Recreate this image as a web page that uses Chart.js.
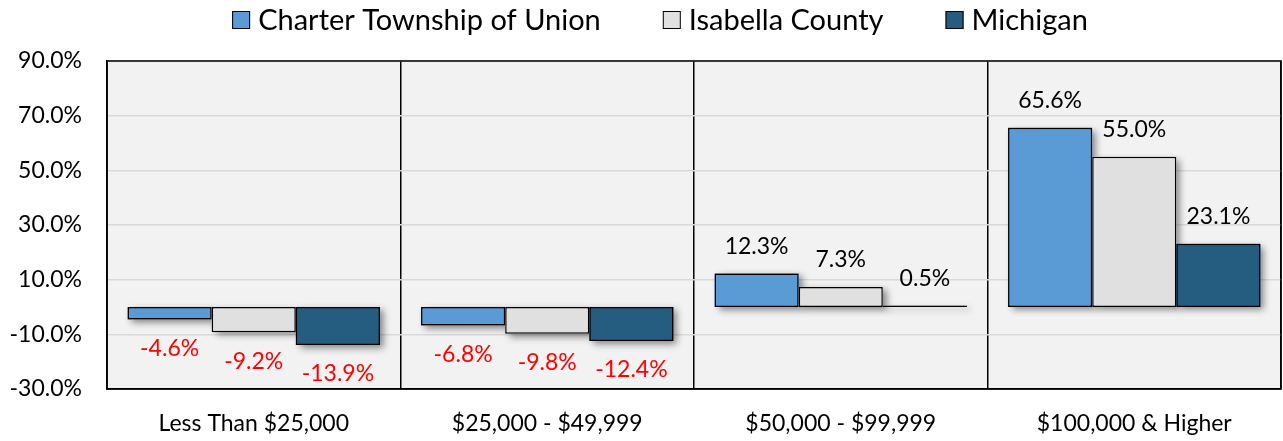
<!DOCTYPE html>
<html>
<head>
<meta charset="utf-8">
<script src="https://cdn.jsdelivr.net/npm/chart.js@4.4.1/dist/chart.umd.min.js"></script>
<style>
  html, body { margin: 0; padding: 0; background: #fff; }
  #wrap { width: 1283px; height: 441px; position: relative; }
</style>
</head>
<body>
<div id="wrap"><canvas id="chart"></canvas></div>
<script>
"use strict";
const categories = ["Less Than $25,000", "$25,000 - $49,999", "$50,000 - $99,999", "$100,000 & Higher"];
const seriesNames = ["Charter Township of Union", "Isabella County", "Michigan"];
const union = [-4.6, -6.8, 12.3, 65.6];
const isabella = [-9.2, -9.8, 7.3, 55.0];
const michigan = [-13.9, -12.4, 0.5, 23.1];
const yTicks = [-30, -10, 10, 30, 50, 70, 90];

const colors = ["#5b9bd5", "#e0e0e0", "#255d80"];
const FONT = "Lato, 'Open Sans', sans-serif";

/* ---------- plugins ---------- */
const plotBg = {
  id: "plotBg",
  beforeDraw(c) {
    const a = c.chartArea, ctx = c.ctx;
    ctx.save();
    ctx.fillStyle = "#f2f2f2";
    ctx.fillRect(a.left, a.top, a.right - a.left, a.bottom - a.top);
    ctx.restore();
  },
  afterDraw(c) {
    const a = c.chartArea, ctx = c.ctx;
    ctx.save();
    ctx.strokeStyle = "#000";
    ctx.lineWidth = 1.5;
    ctx.strokeRect(a.left, a.top, a.right - a.left, a.bottom - a.top);
    ctx.restore();
  }
};

// soft drop shadow behind each bar (bar element clips its own drawing, so paint it first)
const barShadow = {
  id: "barShadow",
  beforeDatasetsDraw(c) {
    const ctx = c.ctx;
    ctx.save();
    ctx.shadowColor = "rgba(0,0,0,0.45)";
    ctx.shadowBlur = 7;
    ctx.shadowOffsetX = 4;
    ctx.shadowOffsetY = 3;
    c.data.datasets.forEach((ds, i) => {
      ctx.fillStyle = ds.backgroundColor;
      c.getDatasetMeta(i).data.forEach(bar => {
        const p = bar.getProps(["x", "y", "base", "width"], true);
        const top = Math.min(p.y, p.base), h = Math.max(Math.abs(p.base - p.y), 1);
        ctx.fillRect(p.x - p.width / 2, top, p.width, h);
      });
    });
    ctx.restore();
  }
};

const valueLabels = {
  id: "valueLabels",
  afterDatasetsDraw(c) {
    const ctx = c.ctx;
    ctx.save();
    ctx.font = "23px " + FONT;
    ctx.textAlign = "center";
    ctx.textBaseline = "middle";
    c.data.datasets.forEach((ds, i) => {
      c.getDatasetMeta(i).data.forEach((bar, j) => {
        const v = ds.data[j];
        ctx.fillStyle = v < 0 ? "#ff0000" : "#000";
        ctx.fillText(v.toFixed(1) + "%", bar.x, bar.y + (v < 0 ? 29 : -27));
      });
    });
    ctx.restore();
  }
};

const topLegend = {
  id: "topLegend",
  afterDraw(c) {
    const ctx = c.ctx;
    const box = 18, gapText = 8, gapItem = 62, y = 20;
    ctx.save();
    ctx.font = "29px " + FONT;
    ctx.textBaseline = "middle";
    const items = c.data.datasets.map(ds => ({ label: ds.label, color: ds.backgroundColor,
      w: box + gapText + ctx.measureText(ds.label).width }));
    const total = items.reduce((s, it) => s + it.w, 0) + gapItem * (items.length - 1);
    let x = 660 - total / 2;
    items.forEach(it => {
      ctx.fillStyle = it.color;
      ctx.fillRect(x, y - box / 2, box, box);
      ctx.strokeStyle = "#000";
      ctx.lineWidth = 1;
      ctx.strokeRect(x + 0.5, y - box / 2 + 0.5, box - 1, box - 1);
      ctx.fillStyle = "#000";
      ctx.fillText(it.label, x + box + gapText, y + 1);
      x += it.w + gapItem;
    });
    ctx.restore();
  }
};

/* ---------- chart ---------- */
new Chart(document.getElementById("chart"), {
  type: "bar",
  data: {
    labels: categories,
    datasets: [union, isabella, michigan].map((d, i) => ({
      label: seriesNames[i], data: d, backgroundColor: colors[i],
      borderColor: "#000", borderWidth: 1.5, borderSkipped: false
    }))
  },
  options: {
    responsive: true, maintainAspectRatio: false, animation: false,
    layout: { padding: { top: 61, right: 2, left: 0, bottom: 0 } },
    categoryPercentage: 0.86, barPercentage: 1,
    plugins: { legend: { display: false }, tooltip: { enabled: false } },
    scales: {
      x: {
        grid: { color: "#000", lineWidth: 1.5, drawTicks: false, offset: true },
        border: { color: "#000", width: 1.5 },
        ticks: { color: "#000", font: { size: 23, family: FONT }, padding: 21, maxRotation: 0 },
        afterFit: s => { s.height = 52; }
      },
      y: {
        min: -30, max: 90,
        afterBuildTicks: s => { s.ticks = yTicks.map(v => ({ value: v })); },
        grid: {
          color: ctx => ctx.tick && ctx.tick.value === 0 ? "#000" : "#d9d9d9",
          lineWidth: 1.5,
          drawTicks: false
        },
        border: { color: "#000", width: 1.5 },
        ticks: { color: "#000", font: { size: 23, family: FONT }, padding: 25,
          callback: v => v.toFixed(1) + "%" },
        afterFit: s => { s.width = 107; }
      }
    }
  },
  plugins: [plotBg, barShadow, valueLabels, topLegend]
});
</script>
</body>
</html>
